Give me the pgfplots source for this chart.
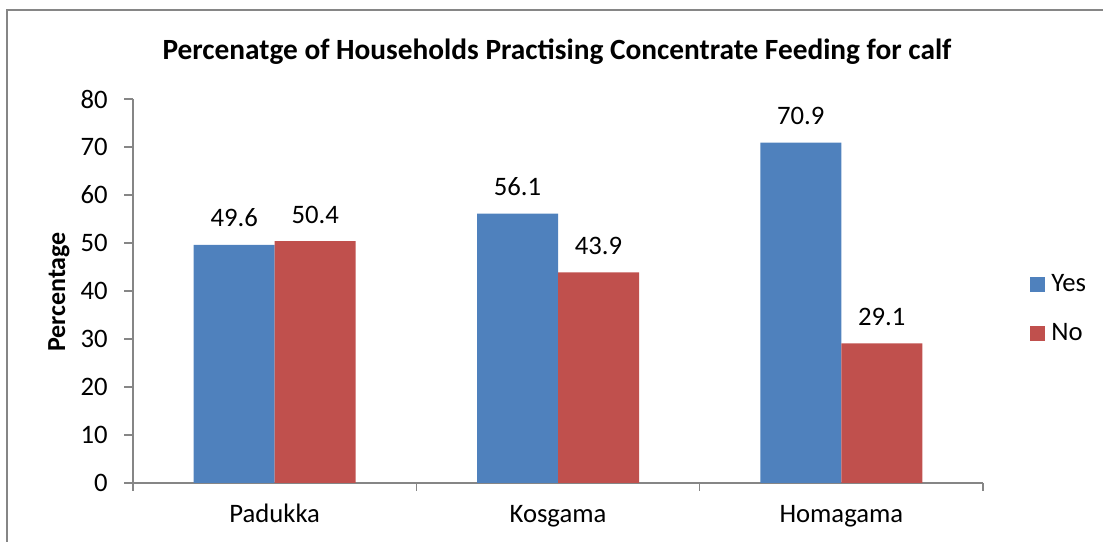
\documentclass[border=0pt]{standalone}
\usepackage{fontspec}
\setmainfont{Carlito}
\usepackage{pgfplots}
\pgfplotsset{compat=1.18}
\definecolor{yescol}{HTML}{4F81BD}
\definecolor{nocol}{HTML}{C0504D}
\definecolor{axgray}{HTML}{868686}
\begin{document}
\begin{tikzpicture}[x=0.75pt,y=0.75pt]
\useasboundingbox (0,0) rectangle (1103,542);
\draw[axgray, line width=1.2pt] (7,0) -- (7,532) -- (1103,532);
\begin{axis}[
    at={(99.75pt,44.25pt)}, anchor=south west, scale only axis,
    width=637.5pt, height=288pt,
    ybar=0pt, bar width=60.75pt,
    legend image code/.code={\fill[#1] (0pt,-5.6pt) rectangle (11.25pt,5.6pt);},
    ymin=0, ymax=80, ytick={0,10,...,80},
    xmin=-0.5, xmax=2.5,
    xtick={0,1,2}, xticklabels={Padukka,Kosgama,Homagama},
    minor xtick={-0.5,0.5,1.5,2.5},
    major x tick style={draw=none},
    tick align=outside, major tick length=6.75pt, minor tick length=6pt,
    axis x line*=bottom, axis y line*=left,
    axis line style={axgray, line width=0.9pt, -},
    tick style={axgray, line width=0.9pt},
    /pgf/number format/assume math mode=true,
    ticklabel style={font=\fontsize{20}{22}\selectfont},
    yticklabel style={anchor=east, inner sep=0pt, xshift=-12pt},
    xticklabel style={anchor=base, inner sep=0pt, yshift=-23pt},
    nodes near coords,
    nodes near coords style={font=\fontsize{20}{22}\selectfont, anchor=base,
        inner sep=0pt, yshift=13.5pt,
        /pgf/number format/.cd, fixed, precision=1, fixed zerofill},
    legend style={at={(rel axis cs:1.0506,0.453)}, anchor=west, draw=none,
        fill=none, font=\fontsize{20}{22}\selectfont, row sep=21pt,
        nodes={inner sep=0pt, text height=13pt, text depth=3pt},
        /tikz/every odd column/.style={column sep=4.5pt}},
    legend cell align=left,
]
\addplot[fill=yescol, draw=none] coordinates {(0,49.6) (1,56.1) (2,70.9)};
\addplot[fill=nocol, draw=none] coordinates {(0,50.4) (1,43.9) (2,29.1)};
\legend{Yes,No}
\end{axis}
\node[font=\fontsize{22}{24}\selectfont\bfseries] at (557,490)
    {Percenatge of Households Practising Concentrate Feeding for calf};
\node[rotate=90, font=\fontsize{19.5}{22}\selectfont\bfseries] at (59,250) {Percentage};
\end{tikzpicture}
\end{document}
